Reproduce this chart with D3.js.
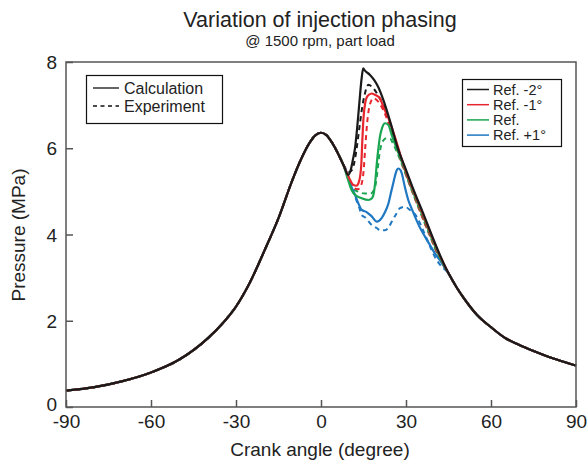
<!DOCTYPE html>
<html>
<head>
<meta charset="utf-8">
<script src="https://cdn.jsdelivr.net/npm/d3@7"></script>
<style>
  html, body { margin: 0; padding: 0; background: #fff; }
  svg { display: block; font-family: "Liberation Sans", Arial, Helvetica, sans-serif; }
</style>
</head>
<body>
<svg id="chart" width="587" height="462"></svg>
<script>
// ---------------- data ----------------
const xTicks = [-90, -60, -30, 0, 30, 60, 90];
const yTicks = [0, 2, 4, 6, 8];

// shared compression part (all cases)
const compressionAngles   = [-90, -80, -70, -60, -50, -40, -35, -30, -25, -20, -15, -10, -7, -4, -2, 0, 2, 4, 6, 8];
const compressionPressure = [0.38, 0.46, 0.6, 0.8, 1.1, 1.59, 1.92, 2.33, 2.9, 3.62, 4.38, 5.28, 5.75, 6.13, 6.3, 6.36, 6.3, 6.12, 5.88, 5.6];

// shared late expansion part
const expansionAngles   = [45, 48, 51, 55, 60, 65, 70, 75, 80, 85, 90];
const expansionPressure = [3.1, 2.76, 2.47, 2.14, 1.85, 1.6, 1.44, 1.3, 1.17, 1.06, 0.96];

// combustion segments per case
const calcM2Angles = [9.6, 10.5, 11.3, 12, 12.8, 13.6, 14.3, 14.9, 15.5, 17.3, 18.8, 20.2, 22, 24.5, 27, 30, 33, 36, 39, 42];
const calcM2Values = [5.38, 5.5, 5.75, 6.0, 6.5, 7.1, 7.6, 7.85, 7.8, 7.7, 7.58, 7.42, 7.12, 6.6, 6.02, 5.5, 4.98, 4.5, 4.0, 3.52];
const expM2Angles  = [10, 11, 12, 12.8, 13.6, 14.4, 15.5, 16.7, 18.5, 20.2, 22, 24.5, 27, 30, 33, 36, 39, 42];
const expM2Values  = [5.45, 5.5, 5.75, 6.1, 6.5, 6.89, 7.27, 7.47, 7.39, 7.22, 7.0, 6.55, 5.98, 5.45, 4.93, 4.44, 3.95, 3.48];

const calcM1Angles = [10, 11.4, 12.5, 13.5, 14.2, 14.6, 15, 15.6, 16.5, 17.9, 19, 20.8, 22, 23.8, 26, 28, 30, 33, 36, 39, 42];
const calcM1Values = [5.3, 5.15, 5.13, 5.25, 5.6, 6.2, 6.7, 7.05, 7.22, 7.27, 7.24, 7.16, 6.96, 6.7, 6.28, 5.85, 5.46, 4.95, 4.46, 3.97, 3.5];
const expM1Angles  = [10, 11.5, 13, 14.2, 15, 15.6, 16.3, 17.2, 18.5, 20.2, 22, 24, 26, 28, 30, 33, 36, 39, 42];
const expM1Values  = [5.28, 5.08, 5.05, 5.15, 5.45, 6.0, 6.6, 7.0, 7.16, 7.08, 6.88, 6.55, 6.15, 5.75, 5.38, 4.86, 4.36, 3.88, 3.42];

const calcRefAngles = [9.6, 10.8, 12, 14.4, 16.7, 18, 18.6, 19.1, 19.7, 20.2, 20.8, 21.6, 22.6, 23.8, 25, 26.1, 28, 30, 33, 36, 39, 42];
const calcRefValues = [5.26, 5.03, 4.92, 4.84, 4.8, 4.84, 4.95, 5.19, 5.65, 5.96, 6.27, 6.48, 6.58, 6.54, 6.3, 6.1, 5.78, 5.42, 4.9, 4.42, 3.93, 3.46];
const expRefAngles  = [10, 11.4, 13.2, 15.5, 17.5, 19, 19.8, 20.6, 21.3, 22, 23, 24.4, 25.5, 27, 30, 33, 36, 39, 42];
const expRefValues  = [5.3, 5.07, 4.99, 4.95, 4.95, 5.08, 5.4, 5.85, 6.08, 6.18, 6.23, 6.22, 6.1, 5.88, 5.38, 4.86, 4.36, 3.88, 3.42];

const calcP1Angles = [8.5, 9.6, 10.8, 12, 13.2, 14.4, 16.1, 17.9, 19.7, 21.4, 22.6, 23.8, 24.8, 25.5, 26.2, 26.8, 27.3, 28, 28.5, 29.6, 30.8, 32, 33.2, 35, 36.7, 38.5, 40.2, 42];
const calcP1Values = [5.55, 5.3, 5.1, 4.92, 4.72, 4.57, 4.52, 4.42, 4.3, 4.38, 4.52, 4.72, 5.0, 5.19, 5.38, 5.5, 5.53, 5.5, 5.42, 5.1, 4.8, 4.6, 4.41, 4.15, 3.95, 3.75, 3.56, 3.4];
const expP1Angles  = [10, 12, 13.5, 14.4, 15.5, 17.9, 19.7, 20.8, 22.6, 24, 25, 26.5, 27.9, 29.6, 31.4, 33.8, 35.5, 37, 38.5, 40.8, 42];
const expP1Values  = [5.22, 4.88, 4.62, 4.45, 4.4, 4.22, 4.15, 4.1, 4.1, 4.18, 4.3, 4.47, 4.61, 4.64, 4.57, 4.41, 4.18, 3.95, 3.72, 3.41, 3.3];

const caseNames  = ["Ref. -2°", "Ref. -1°", "Ref.", "Ref. +1°"];
const caseColors = ["#1a1a1a", "#e8262e", "#1aa650", "#1f78c1"];
const styleNames = ["Calculation", "Experiment"];

// ---------------- build ----------------
function build(a, v) {
  const pts = compressionAngles.map((x, i) => [x, compressionPressure[i]]);
  a.forEach((x, i) => pts.push([x, v[i]]));
  expansionAngles.forEach((x, i) => pts.push([x, expansionPressure[i]]));
  return pts;
}
const series = [
  { name: caseNames[0], color: caseColors[0], calc: build(calcM2Angles, calcM2Values), exp: build(expM2Angles, expM2Values) },
  { name: caseNames[1], color: caseColors[1], calc: build(calcM1Angles, calcM1Values), exp: build(expM1Angles, expM1Values) },
  { name: caseNames[2], color: caseColors[2], calc: build(calcRefAngles, calcRefValues), exp: build(expRefAngles, expRefValues) },
  { name: caseNames[3], color: caseColors[3], calc: build(calcP1Angles, calcP1Values), exp: build(expP1Angles, expP1Values) }
];

const svg = d3.select("#chart");
const x = d3.scaleLinear().domain([-90, 90]).range([66, 576]);
const y = d3.scaleLinear().domain([0, 8]).range([407, 62]);
const textColor = "#222";
const frameColor = "#555";

// title
svg.append("text").attr("x", 320).attr("y", 27).attr("text-anchor", "middle")
  .attr("font-size", 21.5).attr("fill", textColor).text("Variation of injection phasing");
svg.append("text").attr("x", 320).attr("y", 46).attr("text-anchor", "middle")
  .attr("font-size", 15).attr("fill", textColor).text("@ 1500 rpm, part load");

// curves
const line = d3.line().x(d => x(d[0])).y(d => y(d[1])).curve(d3.curveMonotoneX);
const plot = svg.append("g");
const order = [3, 2, 1, 0];
order.forEach(i => {
  plot.append("path").attr("d", line(series[i].exp)).attr("fill", "none")
    .attr("stroke", series[i].color).attr("stroke-width", 2).attr("stroke-dasharray", "5,4");
});
order.forEach(i => {
  plot.append("path").attr("d", line(series[i].calc)).attr("fill", "none")
    .attr("stroke", series[i].color).attr("stroke-width", 2.2).attr("stroke-linejoin", "round");
});

// frame
svg.append("rect").attr("x", 66).attr("y", 62).attr("width", 510).attr("height", 345)
  .attr("fill", "none").attr("stroke", frameColor).attr("stroke-width", 1.5);

// axes (ticks inward)
const fmt = d => String(d);
const xAxis = d3.axisBottom(x).tickValues(xTicks).tickFormat(fmt).tickSizeInner(-7).tickSizeOuter(0);
const gx = svg.append("g").attr("transform", "translate(0,407)").call(xAxis);
const yAxis = d3.axisLeft(y).tickValues(yTicks).tickFormat(fmt).tickSizeInner(-7).tickSizeOuter(0);
const gy = svg.append("g").attr("transform", "translate(66,0)").call(yAxis);
[gx, gy].forEach(g => {
  g.select(".domain").remove();
  g.selectAll(".tick line").attr("stroke", frameColor).attr("stroke-width", 1.5);
  g.selectAll(".tick text").attr("font-size", 19).attr("fill", textColor)
    .attr("font-family", "'Liberation Sans', Arial, sans-serif");
});
gx.selectAll(".tick text").attr("dy", "0.71em").attr("y", 8);
gy.selectAll(".tick text").attr("x", -9).attr("dy", d => d === 0 ? "0.18em" : "0.35em");

// axis titles
svg.append("text").attr("x", 320).attr("y", 456).attr("text-anchor", "middle")
  .attr("font-size", 19).attr("fill", textColor).text("Crank angle (degree)");
svg.append("text").attr("transform", "translate(25,235) rotate(-90)").attr("text-anchor", "middle")
  .attr("font-size", 19).attr("fill", textColor).text("Pressure (MPa)");

// legend 1 (line style)
const l1 = svg.append("g");
l1.append("rect").attr("x", 86.5).attr("y", 75.5).attr("width", 136).attr("height", 48)
  .attr("fill", "#fff").attr("stroke", "#111").attr("stroke-width", 1.2);
styleNames.forEach((n, i) => {
  const yy = 88 + i * 18;
  l1.append("line").attr("x1", 93).attr("x2", 119).attr("y1", yy).attr("y2", yy)
    .attr("stroke", "#111").attr("stroke-width", 1.3)
    .attr("stroke-dasharray", i === 1 ? "4,3.5" : null);
  l1.append("text").attr("x", 124).attr("y", yy + 5.5).attr("font-size", 16).attr("fill", textColor).text(n);
});

// legend 2 (cases)
const l2 = svg.append("g");
l2.append("rect").attr("x", 462.5).attr("y", 79.5).attr("width", 99).attr("height", 67)
  .attr("fill", "#fff").attr("stroke", "#111").attr("stroke-width", 1.2);
series.forEach((s, i) => {
  const yy = 89.5 + i * 15.2;
  l2.append("line").attr("x1", 467).attr("x2", 489).attr("y1", yy).attr("y2", yy)
    .attr("stroke", s.color).attr("stroke-width", 1.5);
  l2.append("text").attr("x", 493).attr("y", yy + 5).attr("font-size", 14.5).attr("fill", textColor).text(s.name);
});
</script>
</body>
</html>
